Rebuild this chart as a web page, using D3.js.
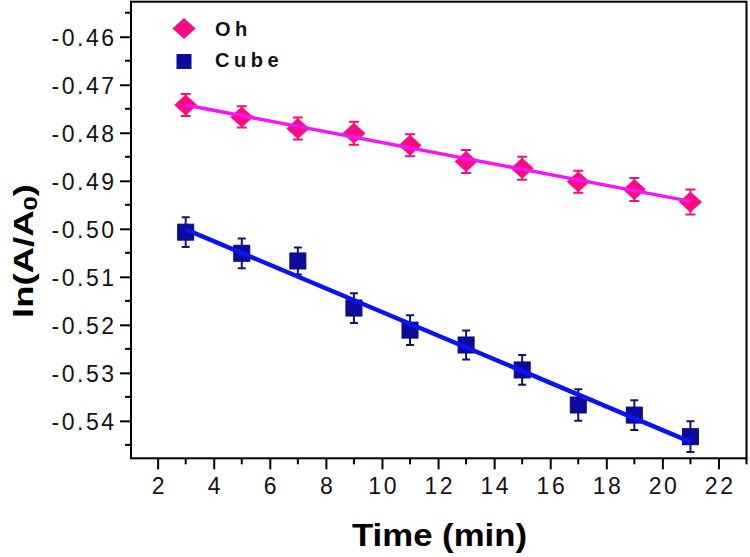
<!DOCTYPE html>
<html>
<head>
<meta charset="utf-8">
<script src="https://cdn.jsdelivr.net/npm/d3@7"></script>
<style>
	body { margin: 0; background: #fff; }
	svg { display: block; font-family: "Liberation Sans", Arial, sans-serif; }
</style>
</head>
<body>
<svg id="chart" width="750" height="557"></svg>
<script>
var times = [ 3, 5, 7, 9, 11, 13, 15, 17, 19, 21 ];
var ohValues = [ -0.4742, -0.4767, -0.4791, -0.4801, -0.4826, -0.4860, -0.4874, -0.4902, -0.4918, -0.4944 ];
var ohErrors = [ 0.0023, 0.0022, 0.0023, 0.0024, 0.0023, 0.0024, 0.0024, 0.0023, 0.0024, 0.0026 ];
var cubeValues = [ -0.5007, -0.5051, -0.5067, -0.5165, -0.5211, -0.5242, -0.5294, -0.5367, -0.5388, -0.5433 ];
var cubeErrors = [ 0.0031, 0.0031, 0.0028, 0.0031, 0.0031, 0.0030, 0.0031, 0.0033, 0.0031, 0.0032 ];
var seriesNames = [ "Oh", "Cube" ];

var xTicks = [ 2, 4, 6, 8, 10, 12, 14, 16, 18, 20, 22 ];
var xMinorTicks = [ 3, 5, 7, 9, 11, 13, 15, 17, 19, 21, 23 ];
var yTicks = [ -0.54, -0.53, -0.52, -0.51, -0.50, -0.49, -0.48, -0.47, -0.46 ];
var yMinorTicks = [ -0.545, -0.535, -0.525, -0.515, -0.505, -0.495, -0.485, -0.475, -0.465, -0.455 ];

var plotLeft = 131, plotRight = 746.5, plotTop = 1.7, plotBottom = 458.3;

var svg = d3.select("#chart");
var x = d3.scaleLinear().domain([ 1.05, 23 ]).range([ plotLeft, plotRight ]);
var y = d3.scaleLinear().domain([ -0.5478, -0.4527 ]).range([ plotBottom, plotTop ]);

function pts(values, errors) {
	return times.map(function(t, i) {
		return { t: t, v: values[i], e: errors[i] };
	});
}

// least squares line through a series
function fit(values) {
	var mx = d3.mean(times), my = d3.mean(values);
	var sxy = d3.sum(times, function(t, i) { return (t - mx) * (values[i] - my); });
	var sxx = d3.sum(times, function(t) { return (t - mx) * (t - mx); });
	var b = sxy / sxx, a = my - b * mx;
	var x0 = d3.min(times), x1 = d3.max(times);
	return [ { t: x0, v: a + b * x0 }, { t: x1, v: a + b * x1 } ];
}

// axes
var xAxis = svg.append("g").attr("transform", "translate(0," + plotBottom + ")")
		.call(d3.axisBottom(x).tickValues(xTicks).tickSize(11).tickPadding(8).tickFormat(d3.format("d")));
var yAxis = svg.append("g").attr("transform", "translate(" + plotLeft + ",0)")
		.call(d3.axisLeft(y).tickValues(yTicks).tickSize(11).tickPadding(6).tickFormat(function(d) {
			return d.toFixed(2);
		}));
[ xAxis, yAxis ].forEach(function(g) {
	g.select(".domain").remove();
	g.attr("font-size", 23).attr("font-family", "'Liberation Sans', Arial, sans-serif");
	g.selectAll(".tick line").attr("stroke", "#000").attr("stroke-width", 2);
	g.selectAll(".tick text").attr("fill", "#111").attr("letter-spacing", 2.5);
});
xAxis.selectAll(".tick text").attr("dx", 1.2);
yAxis.selectAll(".tick text").attr("dx", 2.5).attr("dy", "0.36em");

svg.append("g").selectAll("line").data(xMinorTicks).enter().append("line")
		.attr("x1", x).attr("x2", x).attr("y1", plotBottom).attr("y2", plotBottom + 6)
		.attr("stroke", "#000").attr("stroke-width", 2);
svg.append("g").selectAll("line").data(yMinorTicks).enter().append("line")
		.attr("y1", y).attr("y2", y).attr("x1", plotLeft).attr("x2", plotLeft - 6)
		.attr("stroke", "#000").attr("stroke-width", 2);

svg.append("rect").attr("x", plotLeft).attr("y", plotTop)
		.attr("width", plotRight - plotLeft).attr("height", plotBottom - plotTop)
		.attr("fill", "none").attr("stroke", "#000").attr("stroke-width", 2);

// error bars
function errorBars(data, color, cap) {
	var g = svg.append("g").attr("stroke", color).attr("stroke-width", 2);
	g.selectAll(".bar").data(data).enter().append("path")
			.attr("d", function(d) {
				var px = x(d.t), y1 = y(d.v + d.e), y2 = y(d.v - d.e);
				return "M " + px + " " + y1 + " L " + px + " " + y2
						+ " M " + (px - cap) + " " + y1 + " L " + (px + cap) + " " + y1
						+ " M " + (px - cap) + " " + y2 + " L " + (px + cap) + " " + y2;
			}).attr("fill", "none");
}

var ohData = pts(ohValues, ohErrors);
var cubeData = pts(cubeValues, cubeErrors);

errorBars(ohData, "#f0127e", 5);
errorBars(cubeData, "#15156a", 4);

var diamond = "M 0 -10.5 L 11.5 0 L 0 10.5 L -11.5 0 Z";
svg.append("g").selectAll("path").data(ohData).enter().append("path")
		.attr("d", diamond)
		.attr("transform", function(d) { return "translate(" + x(d.t) + "," + y(d.v) + ")"; })
		.attr("fill", "#ff0a82");
svg.append("g").selectAll("rect").data(cubeData).enter().append("rect")
		.attr("x", function(d) { return x(d.t) - 8; })
		.attr("y", function(d) { return y(d.v) - 8; })
		.attr("width", 16).attr("height", 16)
		.attr("fill", "#0b0b9e").attr("stroke", "#0a0a70").attr("stroke-width", 1);

// fitted lines
var line = d3.line().x(function(d) { return x(d.t); }).y(function(d) { return y(d.v); });
svg.append("path").datum(fit(ohValues)).attr("d", line)
		.attr("fill", "none").attr("stroke", "#f516f5").attr("stroke-width", 3.5);
svg.append("path").datum(fit(cubeValues)).attr("d", line)
		.attr("fill", "none").attr("stroke", "#0a14f0").attr("stroke-width", 4.5);

// legend
var legend = svg.append("g");
legend.append("path").attr("d", diamond)
		.attr("transform", "translate(184,28.5)").attr("fill", "#ff0a82");
legend.append("rect").attr("x", 176.5).attr("y", 54).attr("width", 15).attr("height", 15).attr("fill", "#0b0b9e");
legend.selectAll("text").data(seriesNames).enter().append("text")
		.attr("x", 215).attr("y", function(d, i) { return i === 0 ? 36 : 67; })
		.attr("font-size", 20).attr("font-weight", "bold").attr("letter-spacing", 4.5)
		.attr("fill", "#111").text(function(d) { return d; });

// axis titles
svg.append("text").attr("x", 439.5).attr("y", 546).attr("text-anchor", "middle")
		.attr("font-size", 32).attr("font-weight", "bold")
		.attr("textLength", 175).attr("lengthAdjust", "spacingAndGlyphs")
		.text("Time (min)");

var yTitle = svg.append("text").attr("transform", "translate(33,318) rotate(-90)")
		.attr("font-size", 27).attr("font-weight", "bold")
		.attr("textLength", 134).attr("lengthAdjust", "spacingAndGlyphs");
yTitle.append("tspan").text("ln(A/A");
yTitle.append("tspan").attr("font-size", 19).attr("dy", 4).text("0");
yTitle.append("tspan").attr("dy", -4).text(")");
</script>
</body>
</html>
